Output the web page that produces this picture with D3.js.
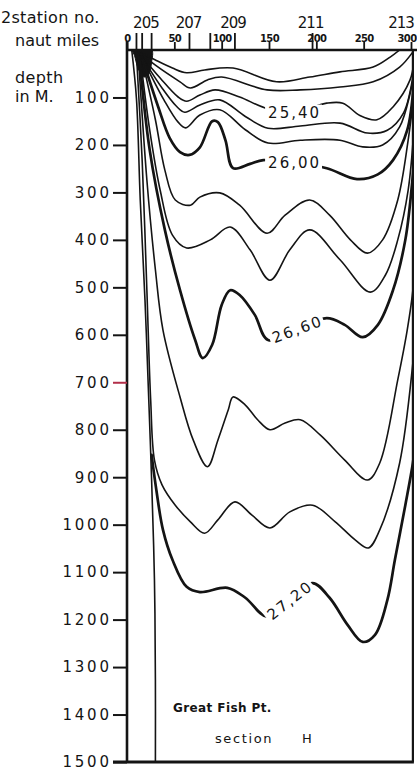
<!DOCTYPE html>
<html><head><meta charset="utf-8">
<script src="https://cdn.jsdelivr.net/npm/d3@7"></script>
<style>html,body{margin:0;padding:0;background:#fff;}svg{display:block;}</style>
</head><body>
<svg id="c" width="417" height="772"></svg>
<script>
// ---------- DATA (miles along section, depth in metres) ----------
const depthTicks = [100,200,300,400,500,600,700,800,900,1000,1100,1200,1300,1400,1500];
const mileTicks = [0,50,100,150,200,250,300];
const stationLabels = ["205","207","209","211","213"];
const stationMiles = [20,65,112,194,303];
const stationTickMiles = [10,16,26,66,88,114,196];
const sectionEndMile = 302;
const maxDepth = 1500;

const shelfWedge = [[6,0],[26,0],[26,25],[23,50],[18,57],[12,40],[8,12]];
const slopeLine = [[5,0],[10,103],[14,316],[19,527],[23,737],[26,906],[29,1117],[30,1327],[30,1500]];
const sigma2500 = [[10,0],[30,21],[48,38],[63,48],[82,42],[112,38],[158,67],[193,57],[225,46],[260,36],[278,15],[288,0]];
const sigma2520 = [[11,2],[30,32],[56,67],[67,80],[85,63],[100,57],[148,84],[183,84],[225,78],[260,67],[288,36],[302,4]];
const sigma2540 = [[12,4],[35,59],[54,99],[63,108],[77,95],[93,84],[119,99],[146,122],[177,131],[211,112],[228,112],[246,138],[264,147],[281,120],[299,63],[303,25]];
const sigma2560 = [[13,6],[37,80],[52,118],[61,131],[77,116],[98,105],[125,140],[149,165],[183,160],[225,154],[254,175],[275,169],[292,133],[303,42]];
const sigma2580 = [[14,8],[39,105],[54,152],[62,164],[77,137],[98,126],[125,168],[149,196],[183,190],[225,190],[249,204],[270,200],[288,162],[303,55]];
const sigma2600 = [[15,10],[33,120],[45,185],[56,215],[66,221],[77,205],[90,150],[96,152],[104,190],[112,249],[130,240],[144,232],[177,238],[211,249],[243,272],[265,262],[281,232],[296,169],[303,67]];
const sigma2620 = [[15,12],[30,147],[40,253],[51,316],[67,327],[77,310],[98,301],[119,327],[148,386],[167,348],[193,316],[214,348],[236,400],[254,428],[270,400],[286,316],[297,190],[303,95]];
const sigma2640 = [[14,14],[24,169],[35,295],[48,390],[63,417],[88,400],[109,373],[130,421],[151,485],[172,421],[193,379],[225,442],[257,510],[273,474],[286,400],[297,295],[303,169]];
const sigma2660 = [[13,16],[24,211],[40,379],[56,506],[72,611],[80,649],[90,621],[100,537],[109,506],[119,516],[135,558],[149,611],[180,588],[211,565],[230,579],[249,605],[265,579],[281,506],[294,400],[301,284],[304,211]];
const sigma2680 = [[12,14],[21,274],[30,463],[38,590],[56,731],[70,822],[85,878],[96,822],[107,758],[112,731],[125,748],[138,779],[151,800],[167,786],[183,779],[204,811],[230,864],[254,906],[267,870],[286,695],[296,590],[302,506],[305,421]];
const sigma2700 = [[10,10],[16,232],[21,506],[25,737],[29,864],[37,916],[51,959],[67,994],[82,1018],[96,990],[114,952],[132,980],[151,1007],[172,973],[196,959],[220,994],[241,1032],[255,1049],[267,1011],[288,870],[302,659],[305,590]];
const sigma2720 = [[26,853],[31,927],[38,1011],[48,1074],[63,1131],[77,1142],[106,1133],[125,1154],[148,1194],[172,1159],[196,1123],[214,1154],[233,1211],[249,1247],[262,1232],[275,1159],[283,1074],[294,959],[302,870],[305,822]];

const contourLabels = ["25,40","26,00","26,60","27,20"];
const contourLabelAt = [[177,131],[177,238],[180,588],[172,1159]];

// ---------- STYLE / LAYOUT ----------
const ink = "#141414";
const FONT = "'DejaVu Sans', sans-serif";
const svg = d3.select("#c");
const x = d3.scaleLinear().domain([0,300]).range([127,411]);
const y = d3.scaleLinear().domain([0,maxDepth]).range([50,762]);

const contours = [
  {pts: slopeLine, bold:false},
  {pts: sigma2500, bold:false},
  {pts: sigma2520, bold:false},
  {pts: sigma2540, bold:false, label:0, angle:0},
  {pts: sigma2560, bold:false},
  {pts: sigma2580, bold:false},
  {pts: sigma2600, bold:true, label:1, angle:0},
  {pts: sigma2620, bold:false},
  {pts: sigma2640, bold:false},
  {pts: sigma2660, bold:true, label:2, angle:-20},
  {pts: sigma2680, bold:false},
  {pts: sigma2700, bold:false},
  {pts: sigma2720, bold:true, label:3, angle:-38}
];

svg.append("defs").append("clipPath").attr("id","plot").append("rect")
  .attr("x", x(0)).attr("y", y(0))
  .attr("width", x(sectionEndMile)-x(0)).attr("height", y(maxDepth)-y(0));

const line = d3.line().x(d=>x(d[0])).y(d=>y(d[1])).curve(d3.curveCatmullRom.alpha(0.5));
const gC = svg.append("g").attr("clip-path","url(#plot)");
gC.append("path").attr("d", d3.line().x(d=>x(d[0])).y(d=>y(d[1])).curve(d3.curveCatmullRomClosed)(shelfWedge))
  .attr("fill", ink).attr("stroke", ink).attr("stroke-width", 1);
contours.forEach(c => {
  gC.append("path").attr("d", line(c.pts)).attr("fill","none")
    .attr("stroke", ink).attr("stroke-width", c.bold ? 2.7 : 1.6)
    .attr("stroke-linejoin","round").attr("stroke-linecap","round");
});

// contour labels on white patches
contours.filter(c => c.label !== undefined).forEach(c => {
  const p = contourLabelAt[c.label];
  const g = svg.append("g").attr("transform", `translate(${x(p[0])},${y(p[1])}) rotate(${c.angle})`);
  const t = g.append("text").attr("text-anchor","middle").attr("dy","0.36em")
    .attr("font-family", FONT).attr("font-size", 15).attr("letter-spacing", 2)
    .attr("fill", ink).text(contourLabels[c.label]);
  const b = t.node().getBBox();
  g.insert("rect","text").attr("x", b.x-3).attr("y", b.y+1).attr("width", b.width+4).attr("height", b.height-2).attr("fill","#fff");
});

// frame
const frame = svg.append("g").attr("stroke", ink).attr("fill","none");
frame.append("line").attr("x1", x(0)-1).attr("x2", 417).attr("y1", y(0)).attr("y2", y(0)).attr("stroke-width", 2.6);
frame.append("line").attr("x1", x(0)).attr("x2", x(0)).attr("y1", y(0)-9).attr("y2", y(maxDepth)+1).attr("stroke-width", 2.6);
frame.append("line").attr("x1", x(sectionEndMile)).attr("x2", x(sectionEndMile)).attr("y1", y(0)).attr("y2", y(maxDepth)).attr("stroke-width", 2.2);
frame.append("line").attr("x1", x(0)-14).attr("x2", x(sectionEndMile)+1).attr("y1", y(maxDepth)).attr("y2", y(maxDepth)).attr("stroke-width", 3);

// left depth axis
const ax = svg.append("g").attr("transform", `translate(${x(0)},0)`)
  .call(d3.axisLeft(y).tickValues(depthTicks).tickSize(14).tickSizeOuter(0).tickPadding(4).tickFormat(d3.format("d")));
ax.select(".domain").remove();
ax.selectAll(".tick line").attr("stroke", d => d === 700 ? "#b2304a" : ink).attr("stroke-width", 2);
ax.selectAll(".tick text").attr("font-family", FONT).attr("font-size", 15)
  .attr("letter-spacing", 2.8).attr("fill", ink).attr("dx", "2.8px");

// top miles axis
const tx = svg.append("g").attr("transform", `translate(0,${y(0)})`)
  .call(d3.axisTop(x).tickValues(mileTicks).tickSize(8).tickSizeOuter(0).tickPadding(0));
tx.select(".domain").remove();
tx.selectAll(".tick line").attr("stroke", ink).attr("stroke-width", 1.8);
tx.selectAll(".tick text").attr("font-family", FONT).attr("font-size", 10).attr("font-weight","bold")
  .attr("letter-spacing", -0.6).attr("fill", ink)
  .attr("text-anchor", d => d === mileTicks[mileTicks.length-1] ? "end" : "middle")
  .attr("dx", d => d === mileTicks[mileTicks.length-1] ? "5px" : 0);

// station ticks
svg.append("g").selectAll("line").data(stationTickMiles).join("line")
  .attr("x1", d=>x(d)).attr("x2", d=>x(d)).attr("y1", y(0)).attr("y2", y(0)-17)
  .attr("stroke", ink).attr("stroke-width", 1.8);

// station labels
svg.append("g").selectAll("text").data(stationLabels).join("text")
  .attr("x", (d,i)=>x(stationMiles[i])).attr("y", 28)
  .attr("text-anchor", (d,i)=> i === stationLabels.length-1 ? "end" : "middle")
  .attr("font-family", FONT).attr("font-size", 15).attr("letter-spacing", -1)
  .attr("fill", ink).text(d=>d);

// titles
const T = (txt, xx, yy, size, opts={}) => svg.append("text").attr("x", xx).attr("y", yy)
  .attr("font-family", FONT).attr("font-size", size).attr("fill", ink)
  .attr("letter-spacing", opts.ls || 0).attr("font-weight", opts.fw || "normal").text(txt);
T("2station no.", 1, 23, 16, {ls:0.3});
T("naut miles", 15, 46, 16, {ls:0});
T("depth", 15, 83, 16, {ls:0.4});
T("in M.", 15, 102, 16, {ls:0});
T("Great Fish Pt.", 173, 712, 12, {fw:"bold", ls:0.4});
T("section", 215, 743, 13, {ls:1.6});
T("H", 302, 743, 13, {});
</script>
</body></html>
